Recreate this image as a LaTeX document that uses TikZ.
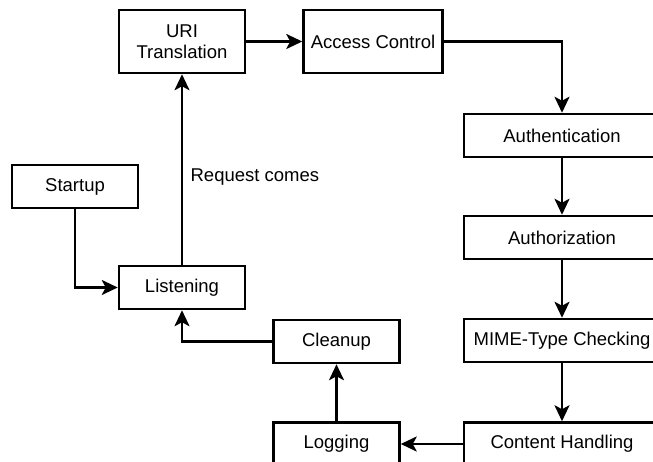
\documentclass[tikz,border=0pt]{standalone}
\usepackage{fontspec}
\setmainfont{Liberation Sans}
\usetikzlibrary{arrows.meta, positioning}

\begin{document}
\begin{tikzpicture}[x=1bp, y=-1bp, node distance=1bp, auto]
    % Styles des boites et des fleches
    \tikzset{
        block/.style = {rectangle, draw, line width=2.5bp, inner sep=0pt, minimum width=126bp, minimum height=43bp, align=center, font=\fontsize{18.5bp}{21.5bp}\selectfont},
        wide/.style  = {block, minimum width=196bp},
        line/.style  = {draw, line width=2.6bp, -{Stealth[length=16bp, width=15bp, inset=4bp]}}
    }

    % Cadre de l'image
    \clip (0,0) rectangle (653,462);

    % Boucle principale a gauche
    \node [block] (startup) at (75,186.5) {Startup};
    \node [block, right of=startup, xshift=106bp, yshift=-101bp] (listening) {Listening};
    \node [block, minimum height=63bp, above of=listening, yshift=245bp] (uri) {URI\\Translation};
    \node [block, minimum width=139bp, minimum height=63bp, right of=uri, xshift=190bp] (access) {Access Control};

    % Colonne de droite
    \node [wide] (authn) at (562,135.5) {Authentication};
    \node [wide, below of=authn, yshift=-101bp] (authz) {Authorization};
    \node [wide, below of=authz, yshift=-102bp] (mime) {MIME-Type Checking};
    \node [wide, below of=mime, yshift=-102.5bp] (content) {Content Handling};

    % Fin de la requete
    \node [block, left of=content, xshift=-224.5bp] (logging) {Logging};
    \node [block, above of=logging, yshift=101.5bp] (cleanup) {Cleanup};

    % Connexions
    \path [line] (startup.south) |- (listening.west);
    \path [line] (listening.north) -- node [right, pos=0.46, xshift=4bp, font=\fontsize{18.5bp}{21.5bp}\selectfont] {Request comes} (uri.south);
    \path [line] (uri) -- (access);
    \path [line] (access.east) -| (authn.north);
    \path [line] (authn) -- (authz);
    \path [line] (authz) -- (mime);
    \path [line] (mime) -- (content);
    \path [line] (content) -- (logging);
    \path [line] (logging) -- (cleanup);
    \path [line] (cleanup.west) -| (listening.south);
\end{tikzpicture}
\end{document}
